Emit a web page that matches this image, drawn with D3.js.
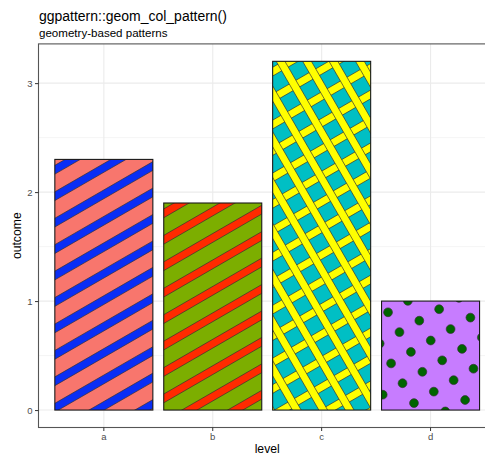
<!DOCTYPE html>
<html><head><meta charset="utf-8">
<script src="https://cdn.jsdelivr.net/npm/d3@7"></script>
<style>body{margin:0;background:#fff}svg{display:block}text{font-family:"Liberation Sans",Arial,sans-serif}</style>
</head><body><svg id="c" width="485" height="456"></svg>
<script>
// ---- data ----
const categories = ["a","b","c","d"];
const outcome = [2.3, 1.9, 3.2, 1.0];
const fills = ["#F8766D","#7CAE00","#00BFC4","#C77CFF"];
const patterns = ["stripe","stripe","crosshatch","circle"];
const patternColours = ["#0A2EF5","#FF2A00","#FFFF00","#006400"];
const yTicks = [0,1,2,3];
const yMinor = [0.5,1.5,2.5];
const title = "ggpattern::geom_col_pattern()";
const subtitle = "geometry-based patterns";
const xTitle = "level", yTitle = "outcome";

// ---- layout / style ----
const panel = {left:38.5, right:495.9, top:43.9, bottom:427.5};
const spacing = 22.9, stripeW = 7.6, dotR = 4.4, angle = 30;
// pattern phase offsets (fraction of spacing, relative to bar top-left)
const phaseA = [0.39, 0.39, 0.39, 0.565];
const phaseB = [0, 0, 0.3, 0];

const svg = d3.select("#c");
const x = d3.scaleBand().domain(categories).range([panel.left, panel.right]).paddingInner(0.1).paddingOuter(0.15);
const y = d3.scaleLinear().domain([-0.16, 3.36]).range([panel.bottom, panel.top]);

// grid
const g = svg.append("g");
g.selectAll(".ym").data(yMinor).join("line").attr("x1",panel.left).attr("x2",panel.right)
  .attr("y1",d=>y(d)).attr("y2",d=>y(d)).attr("stroke","#F3F3F3").attr("stroke-width",0.8);
g.selectAll(".yM").data(yTicks).join("line").attr("x1",panel.left).attr("x2",panel.right)
  .attr("y1",d=>y(d)).attr("y2",d=>y(d)).attr("stroke","#EBEBEB").attr("stroke-width",1.1);
g.selectAll(".xM").data(categories).join("line").attr("y1",panel.top).attr("y2",panel.bottom)
  .attr("x1",d=>x(d)+x.bandwidth()/2).attr("x2",d=>x(d)+x.bandwidth()/2).attr("stroke","#EBEBEB").attr("stroke-width",1.1);

const defs = svg.append("defs");
const rad = Math.PI/180;
function stripes(gr, x0,y0,x1,y1, ang, phase, col){
  const u = [Math.cos(ang*rad), -Math.sin(ang*rad)];
  const n = [-u[1], u[0]];
  const proj = (px,py)=>px*n[0]+py*n[1];
  const s0 = proj(x0,y0);
  const corners = [proj(x0,y0),proj(x1,y0),proj(x0,y1),proj(x1,y1)];
  const lo = Math.min(...corners)-spacing, hi = Math.max(...corners)+spacing;
  const kmin = Math.floor((lo-s0)/spacing)-1, kmax = Math.ceil((hi-s0)/spacing)+1;
  const L = 800, cx=(x0+x1)/2, cy=(y0+y1)/2, tc = cx*u[0]+cy*u[1];
  const polys=[];
  for(let k=kmin;k<=kmax;k++){
    const s = s0 + (k+phase)*spacing;
    if(s<lo||s>hi) continue;
    const pts=[];
    [[s-stripeW/2,tc-L],[s-stripeW/2,tc+L],[s+stripeW/2,tc+L],[s+stripeW/2,tc-L]].forEach(([ss,tt])=>{
      pts.push([n[0]*ss+u[0]*tt, n[1]*ss+u[1]*tt]);
    });
    polys.push(pts);
  }
  gr.selectAll(null).data(polys).join("polygon").attr("points",d=>d.map(p=>p.join(",")).join(" "))
    .attr("fill",col).attr("stroke","#333").attr("stroke-width",0.7);
}
function dots(gr,x0,y0,x1,y1,ang,pa,pb,col){
  const w=[Math.cos(ang*rad)*spacing,-Math.sin(ang*rad)*spacing];
  const v=[Math.sin(ang*rad)*spacing, Math.cos(ang*rad)*spacing];
  const ox = x0 + pa*w[0] + pb*v[0], oy = y0 + pa*w[1] + pb*v[1];
  const pts=[];
  for(let i=-30;i<=30;i++)for(let j=-30;j<=30;j++){
    const px=ox+i*w[0]+j*v[0], py=oy+i*w[1]+j*v[1];
    if(px>x0-dotR&&px<x1+dotR&&py>y0-dotR&&py<y1+dotR) pts.push([px,py]);
  }
  gr.selectAll(null).data(pts).join("circle").attr("cx",d=>d[0]).attr("cy",d=>d[1]).attr("r",dotR)
    .attr("fill",col).attr("stroke","#333").attr("stroke-width",0.7);
}

const bars = svg.append("g");
categories.forEach((c,i)=>{
  const x0=x(c), x1=x(c)+x.bandwidth(), y0=y(outcome[i]), y1=y(0);
  defs.append("clipPath").attr("id","clip"+i).append("rect").attr("x",x0).attr("y",y0).attr("width",x1-x0).attr("height",y1-y0);
  const bg = bars.append("g");
  bg.append("rect").attr("x",x0).attr("y",y0).attr("width",x1-x0).attr("height",y1-y0).attr("fill",fills[i]);
  const pg = bg.append("g").attr("clip-path",`url(#clip${i})`);
  if(patterns[i]==="stripe") stripes(pg,x0,y0,x1,y1,angle,phaseA[i],patternColours[i]);
  else if(patterns[i]==="crosshatch"){
    stripes(pg,x0,y0,x1,y1,angle,phaseA[i],patternColours[i]);
    stripes(pg,x0,y0,x1,y1,angle+90,phaseB[i],patternColours[i]);
  } else dots(pg,x0,y0,x1,y1,angle,0,phaseA[i],patternColours[i]);
  bg.append("rect").attr("x",x0).attr("y",y0).attr("width",x1-x0).attr("height",y1-y0)
    .attr("fill","none").attr("stroke","#1a1a1a").attr("stroke-width",1.1);
});

svg.append("rect").attr("x",panel.left).attr("y",panel.top).attr("width",panel.right-panel.left)
  .attr("height",panel.bottom-panel.top).attr("fill","none").attr("stroke","#555").attr("stroke-width",1.1);

const yAxis = svg.append("g").attr("transform",`translate(${panel.left},0)`)
  .call(d3.axisLeft(y).tickValues(yTicks).tickSize(3.5).tickPadding(2.5).tickFormat(d3.format("d")));
const xAxis = svg.append("g").attr("transform",`translate(0,${panel.bottom})`)
  .call(d3.axisBottom(x).tickSize(3.5).tickPadding(2.5));
[yAxis,xAxis].forEach(a=>{
  a.select(".domain").remove();
  a.selectAll(".tick line").attr("stroke","#333").attr("stroke-width",1);
  a.selectAll(".tick text").attr("fill","#4D4D4D").style("font-size","9.5px").style("font-family","Liberation Sans, Arial, sans-serif");
});

function fit(sel, base, target){
  sel.style("font-size", base+"px");
  const w = sel.node().getComputedTextLength();
  sel.style("font-size", (base*target/w).toFixed(2)+"px");
}
fit(svg.append("text").attr("x",39).attr("y",21).text(title).attr("fill","#000"), 14.6, 188);
fit(svg.append("text").attr("x",39).attr("y",37).text(subtitle).attr("fill","#000"), 11.4, 128.5);
svg.append("text").attr("x",(panel.left+panel.right)/2).attr("y",453).attr("text-anchor","middle").text(xTitle).style("font-size","12.2px");
svg.append("text").attr("transform",`translate(21,${(panel.top+panel.bottom)/2}) rotate(-90)`).attr("text-anchor","middle").text(yTitle).style("font-size","12.2px");
</script></body></html>
